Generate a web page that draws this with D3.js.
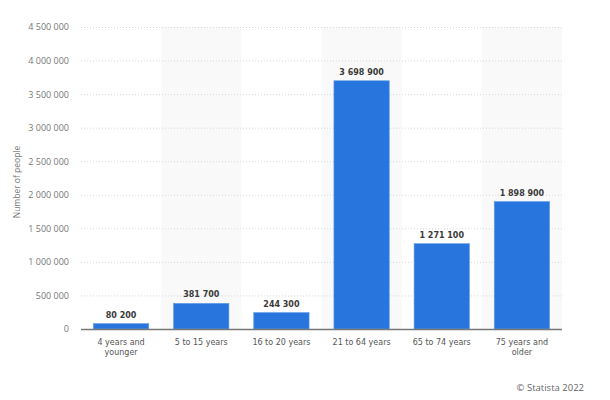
<!DOCTYPE html>
<html>
<head>
<meta charset="utf-8">
<script src="https://cdn.jsdelivr.net/npm/d3@7"></script>
<style>
  body { margin: 0; background: #fff; }
  svg { display: block; }
</style>
</head>
<body>
<div id="chart"></div>
<script>
// values
const categories = ["4 years and younger", "5 to 15 years", "16 to 20 years",
                    "21 to 64 years", "65 to 74 years", "75 years and older"];
const labelLines = [["4 years and", "younger"], ["5 to 15 years"], ["16 to 20 years"],
                    ["21 to 64 years"], ["65 to 74 years"], ["75 years and", "older"]];
const people = [80200, 381700, 244300, 3698900, 1271100, 1898900];
const yTicks = [0, 500000, 1000000, 1500000, 2000000, 2500000, 3000000, 3500000, 4000000, 4500000];

const width = 610, height = 400;
const margin = {top: 27, right: 48, bottom: 71, left: 81};

const spaced = v => d3.format(",")(v).replace(/,/g, " ");

const svg = d3.select("#chart").append("svg")
    .attr("width", width)
    .attr("height", height);

const x = d3.scaleBand()
    .domain(categories)
    .range([margin.left, width - margin.right])
    .paddingInner(0)
    .paddingOuter(0);

const y = d3.scaleLinear()
    .domain([0, 4500000])
    .range([height - margin.bottom, margin.top]);

// alternating band shading
svg.append("g")
    .selectAll("rect")
    .data(categories.filter((d, i) => i % 2 === 1))
    .join("rect")
    .attr("x", d => x(d))
    .attr("y", margin.top)
    .attr("width", x.bandwidth())
    .attr("height", y(0) - margin.top)
    .attr("fill", "#f9f9f9");

// grid
svg.append("g")
    .selectAll("line")
    .data(yTicks.slice(1))
    .join("line")
    .attr("x1", margin.left)
    .attr("x2", width - margin.right)
    .attr("y1", d => y(d) + 0.5)
    .attr("y2", d => y(d) + 0.5)
    .attr("stroke", "#d8d8d8")
    .attr("stroke-dasharray", "1,2");

// y axis labels
const yAxis = svg.append("g")
    .attr("transform", "translate(" + margin.left + ",0)")
    .call(d3.axisLeft(y).tickValues(yTicks).tickFormat(spaced).tickSize(0).tickPadding(12));
yAxis.select(".domain").remove();
yAxis.selectAll("text")
    .attr("font-family", "'Open Sans', sans-serif")
    .attr("font-size", 9)
    .attr("fill", "#777");

svg.append("text")
    .attr("transform", "translate(20," + (y(2250000) + 4) + ") rotate(-90)")
    .attr("text-anchor", "middle")
    .attr("font-family", "'Open Sans', sans-serif")
    .attr("font-size", 8.5)
    .attr("fill", "#777")
    .text("Number of people");

// bars
const barPad = 0.31;
const barW = x.bandwidth() * (1 - barPad);
svg.append("g")
    .selectAll("rect")
    .data(people)
    .join("rect")
    .attr("x", (d, i) => x(categories[i]) + (x.bandwidth() - barW) / 2)
    .attr("y", d => y(d))
    .attr("width", barW)
    .attr("height", d => y(0) - y(d))
    .attr("fill", "#2876dd")
    .attr("stroke", "#5f9ae8")
    .attr("stroke-width", 0.6);

// value labels
svg.append("g")
    .selectAll("text")
    .data(people)
    .join("text")
    .attr("x", (d, i) => x(categories[i]) + x.bandwidth() / 2)
    .attr("y", d => y(d) - 6)
    .attr("text-anchor", "middle")
    .attr("font-family", "'DejaVu Sans', sans-serif")
    .attr("font-weight", "bold")
    .attr("font-size", 8)
    .attr("fill", "#3a3a3a")
    .text(spaced);

// x axis line
svg.append("line")
    .attr("x1", margin.left)
    .attr("x2", width - margin.right)
    .attr("y1", y(0) + 0.5)
    .attr("y2", y(0) + 0.5)
    .attr("stroke", "#777")
    .attr("stroke-width", 1.5);

// category labels
const cat = svg.append("g")
    .selectAll("text")
    .data(categories)
    .join("text")
    .attr("x", d => x(d) + x.bandwidth() / 2)
    .attr("y", y(0) + 16)
    .attr("text-anchor", "middle")
    .attr("font-family", "'DejaVu Sans', sans-serif")
    .attr("font-size", 8)
    .attr("fill", "#555");
cat.selectAll("tspan")
    .data((d, i) => labelLines[i])
    .join("tspan")
    .attr("x", function () { return d3.select(this.parentNode).attr("x"); })
    .attr("dy", (d, i) => i === 0 ? 0 : 10)
    .text(d => d);

// credit
svg.append("text")
    .attr("x", 584)
    .attr("y", 391)
    .attr("text-anchor", "end")
    .attr("font-family", "'Open Sans', sans-serif")
    .attr("font-size", 9.5)
    .attr("fill", "#666")
    .text("© Statista 2022");
</script>
</body>
</html>
